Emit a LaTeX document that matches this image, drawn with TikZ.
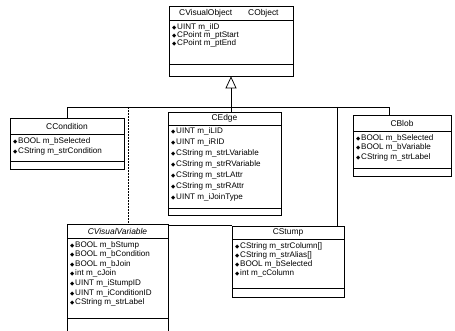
\documentclass[tikz,border=0pt]{standalone}
\usepackage{fontspec}
\setmainfont{Liberation Sans}
\newfontfamily\symf{DejaVu Sans}
\usetikzlibrary{fit,arrows.meta}
\newcommand\ic{{\symf\fontsize{5.5}{5}\selectfont ◆}\hspace{0.8pt}}
\newcommand\classbox[7]{% name x1 x2 ytop yhdr ydiv ybot
  \node[cls, fit={(#2,#4) (#3,#7)}] (#1) {};
  \draw[link] (#2,#5) -- (#3,#5) (#2,#6) -- (#3,#6);}
\begin{document}
\begin{tikzpicture}[x=1pt,y=-1pt,
  cls/.style={draw, line width=0.75pt, inner sep=0pt},
  hdr/.style={font=\fontsize{8.4}{9}\selectfont, inner sep=0pt},
  attr/.style={font=\fontsize{8.1}{9}\selectfont, anchor=west, inner sep=0pt},
  link/.style={line width=0.75pt},
  gen/.style={line width=0.75pt, -{Triangle[open, length=12pt, width=11pt]}}]
\useasboundingbox (0,0) rectangle (455,331);
% CVisualObject
\classbox{vo}{169}{293}{6}{20}{64}{76}
\node[hdr, anchor=west] (voh1) at (179,13) {CVisualObject};
\node[hdr, anchor=west] (voh2) at (248,13) {CObject};
\node[attr] (vo1) at (172,27.5) {\ic UINT m\_iID};
\node[attr] (vo2) at (172,35.5) {\ic CPoint m\_ptStart};
\node[attr] (vo3) at (172,43.5) {\ic CPoint m\_ptEnd};
% CCondition
\classbox{cond}{10}{124}{118}{134}{161}{169}
\node[hdr] (condh) at (67,126) {CCondition};
\node[attr] (cond1) at (13,141) {\ic BOOL m\_bSelected};
\node[attr] (cond2) at (13,151) {\ic CString m\_strCondition};
% CEdge
\classbox{ed}{168}{281}{112}{125}{208}{215}
\node[hdr] (edh) at (224.5,118.5) {CEdge};
\node[attr] (ed1) at (171,131) {\ic UINT m\_iLID};
\node[attr] (ed2) at (171,142) {\ic UINT m\_iRID};
\node[attr] (ed3) at (171,153) {\ic CString m\_strLVariable};
\node[attr] (ed4) at (171,164) {\ic CString m\_strRVariable};
\node[attr] (ed5) at (171,175) {\ic CString m\_strLAttr};
\node[attr] (ed6) at (171,186) {\ic CString m\_strRAttr};
\node[attr] (ed7) at (171,197) {\ic UINT m\_iJoinType};
% CBlob
\classbox{blob}{353}{451}{115}{131}{168}{176}
\node[hdr] (blobh) at (402,123) {CBlob};
\node[attr] (blob1) at (356,138) {\ic BOOL m\_bSelected};
\node[attr] (blob2) at (356,147.5) {\ic BOOL m\_bVariable};
\node[attr] (blob3) at (356,157) {\ic CString m\_strLabel};
% CVisualVariable
\classbox{vv}{67}{168}{224}{238}{318}{345}
\node[hdr, font=\fontsize{8.4}{9}\selectfont\itshape] (vvh) at (117.5,231) {CVisualVariable};
\node[attr] (vv1) at (70,245) {\ic BOOL m\_bStump};
\node[attr] (vv2) at (70,254.6) {\ic BOOL m\_bCondition};
\node[attr] (vv3) at (70,264.2) {\ic BOOL m\_bJoin};
\node[attr] (vv4) at (70,273.8) {\ic int m\_cJoin};
\node[attr] (vv5) at (70,283.4) {\ic UINT m\_iStumpID};
\node[attr] (vv6) at (70,293) {\ic UINT m\_iConditionID};
\node[attr] (vv7) at (70,302.6) {\ic CString m\_strLabel};
% CStump
\classbox{st}{232}{344}{226}{239}{288}{297}
\node[hdr] (sth) at (288,232.5) {CStump};
\node[attr] (st1) at (235,246) {\ic CString m\_strColumn[]};
\node[attr] (st2) at (235,255) {\ic CString m\_strAlias[]};
\node[attr] (st3) at (235,264) {\ic BOOL m\_bSelected};
\node[attr] (st4) at (235,273) {\ic int m\_cColumn};
% connectors
\coordinate (busL) at (67,107);
\coordinate (busR) at (389,107);
\coordinate (dVV) at (128,107);
\coordinate (dST) at (337,107);
\coordinate (as) at (168,225);
\draw[gen] (ed.north -| vo.south) -- (vo.south);
\draw[link] (cond.north -| busL) -- (busL) -- (busR) -- (blob.north -| busR);
\draw[link, dash pattern=on 2pt off 1pt] (dVV) -- (dVV |- vv.north);
\draw[link] (dST) -- (dST |- st.north);
\draw[link] (vv.east |- as) -- (st.west |- as);
\end{tikzpicture}
\end{document}
